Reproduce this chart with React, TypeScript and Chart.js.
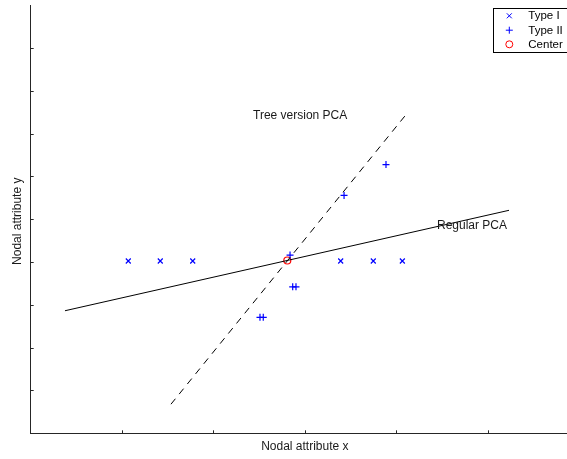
import React, { useEffect, useRef } from "react";
import { Chart, registerables } from "chart.js";

Chart.register(...registerables);

// ---- data (axis units: x 0..6, y 0..10) ----
const typeIX = [1.068, 1.418, 1.773, 3.392, 3.749, 4.067];
const typeIY = [4.025, 4.025, 4.025, 4.025, 4.025, 4.025];
const typeIIX = [2.838, 2.867, 2.903, 2.509, 2.545, 3.429, 3.888];
const typeIIY = [4.164, 3.421, 3.421, 2.708, 2.708, 5.557, 6.277];
const centerX = [2.808];
const centerY = [4.036];
const regularX = [0.375, 5.234];
const regularY = [2.863, 5.209];
const treeX = [1.535, 4.096];
const treeY = [0.68, 7.415];
const seriesLabels = ["Type I", "Type II", "Center"];
const lineLabels = ["Regular PCA", "Tree version PCA"];
const axisTitles = ["Nodal attribute x", "Nodal attribute y"];
const xTicks = [0, 1, 2, 3, 4, 5, 6];
const yTicks = [0, 1, 2, 3, 4, 5, 6, 7, 8, 9, 10];

const FONT = '"Liberation Sans", Arial, Helvetica, sans-serif';
const BLUE = "#0000ff";
const RED = "#ff0000";
const AXIS = "#262626";

const pts = (xs: number[], ys: number[]) => xs.map((x, i) => ({ x, y: ys[i] }));

function drawMarker(ctx: CanvasRenderingContext2D, style: string, x: number, y: number, color: string) {
  ctx.save();
  ctx.strokeStyle = color;
  ctx.lineWidth = 1;
  ctx.beginPath();
  if (style === "crossRot") {
    const h = 2.5;
    ctx.moveTo(x - h, y - h);
    ctx.lineTo(x + h, y + h);
    ctx.moveTo(x - h, y + h);
    ctx.lineTo(x + h, y - h);
  } else if (style === "cross") {
    const h = 3.5;
    ctx.moveTo(x - h, y);
    ctx.lineTo(x + h, y);
    ctx.moveTo(x, y - h);
    ctx.lineTo(x, y + h);
  } else {
    ctx.arc(x, y, 3.5, 0, Math.PI * 2);
  }
  ctx.stroke();
  ctx.restore();
}

const decorPlugin = {
  id: "decor",
  afterDraw(chart: any) {
    const ctx: CanvasRenderingContext2D = chart.ctx;
    const xs = chart.scales.x;
    const ys = chart.scales.y;
    const ca = chart.chartArea;
    ctx.save();
    // inward tick marks
    ctx.strokeStyle = AXIS;
    ctx.lineWidth = 1;
    ctx.beginPath();
    yTicks.slice(1, -1).forEach((v) => {
      const py = Math.round(ys.getPixelForValue(v)) + 0.5;
      ctx.moveTo(ca.left, py);
      ctx.lineTo(ca.left + 3, py);
    });
    xTicks.slice(1).forEach((v) => {
      const px = Math.round(xs.getPixelForValue(v)) + 0.5;
      ctx.moveTo(px, ca.bottom);
      ctx.lineTo(px, ca.bottom - 3);
    });
    ctx.stroke();

    // text annotations
    ctx.fillStyle = "#1a1a1a";
    ctx.font = "12px " + FONT;
    ctx.textBaseline = "middle";
    ctx.textAlign = "left";
    ctx.fillText(lineLabels[0], xs.getPixelForValue(4.446), ys.getPixelForValue(4.838));
    ctx.fillText(lineLabels[1], xs.getPixelForValue(2.433), ys.getPixelForValue(7.415));

    // axis titles
    ctx.font = "12px " + FONT;
    ctx.textAlign = "center";
    ctx.fillText(axisTitles[0], (ca.left + ca.right) / 2, 447);
    ctx.save();
    ctx.translate(18, (ca.top + ca.bottom) / 2 + 2);
    ctx.rotate(-Math.PI / 2);
    ctx.fillText(axisTitles[1], 0, 0);
    ctx.restore();

    // legend box
    const bx = 493.5, by = 8.5, bw = 80, bh = 44;
    ctx.fillStyle = "#ffffff";
    ctx.fillRect(bx, by, bw, bh);
    ctx.strokeStyle = "#000";
    ctx.lineWidth = 1;
    ctx.strokeRect(bx, by, bw, bh);
    const styles = ["crossRot", "cross", "circle"];
    const colors = [BLUE, BLUE, RED];
    const rows = [15.8, 30.2, 44.3];
    ctx.font = "11.5px " + FONT;
    ctx.textAlign = "left";
    seriesLabels.forEach((lab, i) => {
      drawMarker(ctx, styles[i], 509.3, rows[i], colors[i]);
      ctx.fillStyle = "#000";
      ctx.fillText(lab, 528.3, rows[i] + 0.5);
    });
    ctx.restore();
  },
};

export default function App() {
  const ref = useRef<HTMLCanvasElement | null>(null);
  useEffect(() => {
    document.body.style.margin = "0";
    document.body.style.overflow = "hidden";
    const canvas = ref.current!;
    const chart = new Chart(canvas, {
      type: "scatter",
      data: {
        datasets: [
          {
            label: lineLabels[0],
            data: pts(regularX, regularY),
            showLine: true,
            borderColor: "#000",
            borderWidth: 1,
            pointRadius: 0,
          },
          {
            label: lineLabels[1],
            data: pts(treeX, treeY),
            showLine: true,
            borderColor: "#000",
            borderWidth: 1,
            borderDash: [7, 6],
            pointRadius: 0,
          },
          {
            label: seriesLabels[0],
            data: pts(typeIX, typeIY),
            pointStyle: "crossRot",
            pointRadius: 3.5,
            borderColor: BLUE,
            backgroundColor: BLUE,
            pointBorderWidth: 1.2,
          },
          {
            label: seriesLabels[1],
            data: pts(typeIIX, typeIIY),
            pointStyle: "cross",
            pointRadius: 3.5,
            borderColor: BLUE,
            backgroundColor: BLUE,
            pointBorderWidth: 1.2,
          },
          {
            label: seriesLabels[2],
            data: pts(centerX, centerY),
            pointStyle: "circle",
            pointRadius: 3.5,
            borderColor: RED,
            backgroundColor: "rgba(0,0,0,0)",
            pointBorderWidth: 1.2,
          },
        ],
      },
      options: {
        responsive: false,
        animation: false,
        layout: { padding: { top: 2.7, right: 21, left: 0, bottom: 0 } },
        plugins: { legend: { display: false }, tooltip: { enabled: false } },
        scales: {
          x: {
            type: "linear",
            min: xTicks[0],
            max: xTicks[xTicks.length - 1],
            ticks: { display: false, stepSize: 1 },
            grid: { display: false },
            border: { display: true, color: AXIS, width: 1 },
            afterFit: (s: any) => {
              s.height = 25.7;
            },
          },
          y: {
            type: "linear",
            min: yTicks[0],
            max: yTicks[yTicks.length - 1],
            ticks: { display: false, stepSize: 1 },
            grid: { display: false },
            border: { display: true, color: AXIS, width: 1 },
            afterFit: (s: any) => {
              s.width = 30.7;
            },
          },
        },
      },
      plugins: [decorPlugin],
    } as any);
    return () => chart.destroy();
  }, []);
  return (
    <div style={{ width: 600, height: 459, overflow: "hidden" }}>
      <canvas ref={ref} width={600} height={459} style={{ display: "block" }} />
    </div>
  );
}
